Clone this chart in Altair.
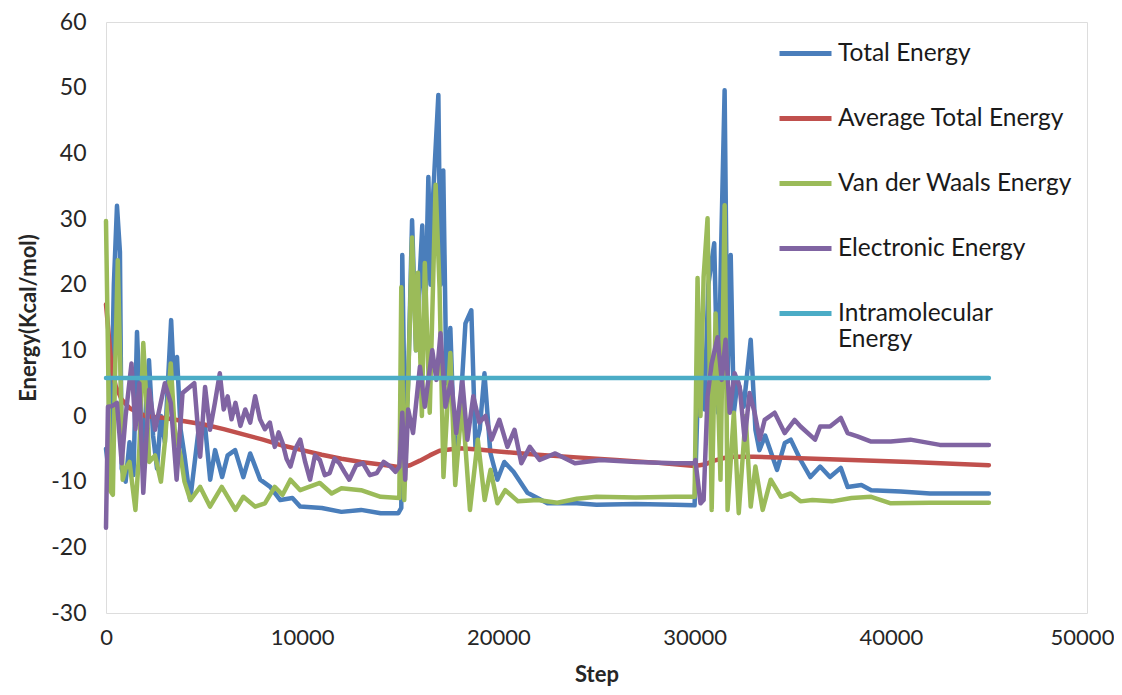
import altair as alt
import pandas as pd

# ---- data ----
total_steps = [0, 200, 400, 560, 710, 800, 1000, 1200, 1400, 1580, 1750, 1900, 2190, 2400, 2600, 2800, 3000,
               3320, 3450, 3620, 3800, 4000, 4290, 4700, 5050, 5310, 5560, 5920, 6200, 6580, 7000, 7350, 7860,
               8370, 8880, 9500, 9900, 11000, 12000, 13000, 14000, 14900, 15050, 15100, 15250, 15400, 15600,
               15800, 16120, 16250, 16430, 16550, 16680, 16940, 17050, 17190, 17350, 17550, 17800, 18000, 18320,
               18620, 18830, 19050, 19290, 19590, 19950, 20300, 20770, 21480, 22500, 24000, 25000, 27000, 29000,
               30000, 30150, 30350, 30500, 30700, 31000, 31200, 31350, 31530, 31680, 31840, 32000, 32200, 32500,
               32860, 33100, 33300, 33600, 34200, 34600, 34900, 35400, 35900, 36400, 36900, 37450, 37800, 38500,
               39000, 40500, 42000, 45000]
total_vals = [-5, -10, 20, 32, 25, -8, -10, -4, -9, 12.8, 0, -5, 8.5, -3, -8, 0, -4,
              14.6, 6, 9, -2, -6, -12.8, -2.6, -1.6, -9.7, -5.2, -9.3, -6, -5.2, -9.3, -5.7, -9.7,
              -10.8, -12.8, -12.5, -13.8, -14, -14.6, -14.3, -14.8, -14.8, -14, 24.5, -5, 5, 29.8,
              10, 29, 12, 36.4, 20, 33.9, 48.9, 20, 37.4, 5, 13.4, -8.7, -2, 14.1,
              16.1, -4.7, -2, 6.5, -5.6, -9.7, -7, -8.5, -11.7, -13.3, -13.3, -13.5, -13.4, -13.5,
              -13.6, 2, 9.6, 1, 20, 26.3, 0.5, 25.3, 49.6, 5.5, 24.5, 0.5, 5.5, 1.4,
              11.6, -2.1, -5.2, -3, -8.2, -4.1, -3.6, -6.7, -9.3, -7.7, -9.3, -7.9, -10.8, -10.5,
              -11.3, -11.5, -11.8, -11.8]

avg_steps = [0, 150, 300, 500, 800, 1200, 2000, 3000, 4000, 5000, 6000, 7000, 8000, 9000, 10000, 11000,
             12000, 13000, 14000, 15000, 15500, 16000, 16500, 17000, 18000, 19000, 20000, 22000, 24000, 26000,
             28000, 30000, 30500, 31000, 31500, 32000, 33000, 35000, 38000, 41000, 45000]
avg_vals = [17, 12, 7, 4.5, 2.5, 1.2, 0, -0.3, -0.8, -1.3, -2, -2.8, -3.6, -4.5, -5.2, -5.9,
            -6.5, -7, -7.4, -7.8, -7.5, -6.8, -6, -5.3, -4.9, -5.1, -5.4, -5.9, -6.3, -6.7,
            -7.1, -7.6, -7.4, -6.8, -6.4, -6.2, -6.2, -6.4, -6.7, -7.0, -7.5]

vdw_steps = [0, 100, 200, 350, 450, 600, 750, 850, 1000, 1200, 1500, 1700, 1900, 2100, 2200, 2500, 2800,
             3000, 3300, 3500, 3800, 4000, 4300, 4800, 5300, 5900, 6600, 7000, 7600, 8100, 8600, 9000, 9400,
             9900, 10900, 11500, 12000, 13000, 14000, 14950, 15050, 15200, 15400, 15600, 15800, 15900, 16100,
             16250, 16500, 16800, 17000, 17200, 17550, 17800, 18150, 18550, 18950, 19300, 19600, 19950, 20350,
             21000, 22000, 23000, 24000, 25000, 27000, 29000, 30000, 30150, 30300, 30460, 30660, 30870, 31070,
             31320, 31530, 31680, 32000, 32250, 32600, 32860, 33100, 33470, 33880, 34400, 34900, 35400, 36000,
             37000, 38000, 39000, 40000, 42000, 45000]
vdw_vals = [29.7, 10, -11.3, -12, 5, 23.7, 5, -9.7, -8, -7, -14.3, -5, 11.1, 0, -7, -6, -10,
            -4, 8, -2, -6, -10, -12.8, -10.8, -13.8, -10.8, -14.3, -12.3, -13.8, -13.3, -10.8, -12, -9.7,
            -11.3, -10.2, -11.8, -11, -11.3, -12.3, -12.5, 19.6, -12.8, 5, 27.2, 10, 21.8, 0,
            23.3, 0.5, 35.2, 19.6, -9.3, 9.6, -10.5, 2.4, -14.3, -3.6, -12.8, -8.2, -13.3, -11.3,
            -13, -12.8, -13.2, -12.6, -12.3, -12.4, -12.3, -12.3, 21, 0, 21.2, 30.1, -14.3, 15.6,
            -9.7, 32.1, -14.3, 0.5, -14.8, 0, -13.8, -7.7, -14.3, -9.7, -12.3, -11.8, -13, -12.8,
            -13, -12.5, -12.3, -13.3, -13.2, -13.2]

elec_steps = [0, 100, 300, 560, 800, 1000, 1300, 1500, 1700, 1900, 2200, 2500, 3000, 3300, 3600, 3900,
              4500, 4800, 5050, 5300, 5550, 5800, 6000, 6200, 6400, 6600, 6850, 7100, 7350, 7600, 7850,
              8100, 8350, 8600, 8800, 9000, 9200, 9400, 9650, 9900, 10150, 10400, 10650, 10900, 11150,
              11400, 11650, 11900, 12150, 12400, 12750, 13100, 13450, 13800, 14150, 14500, 14750, 14950,
              15100, 15250, 15400, 15650,
              16000, 16250, 16630, 16840, 17050, 17300, 17600, 17850, 18160, 18420, 18720, 19030, 19340,
              19650, 20050, 20460, 20820, 21170, 21600, 22100, 22900, 23900, 25200, 27000, 29000, 30000,
              30040, 30300, 30460, 30660, 30870, 31170, 31380, 31580, 31790, 32040, 32300, 32550, 32800,
              33060, 33320, 33570, 34080, 34590, 35100, 35400, 36140, 36400, 36900, 37450, 37800, 38300,
              39000, 40000, 41000, 42500, 45000]
elec_vals = [-17, 1.4, 1.5, 2, -7.2, 0, 8, -2, 5, -11.7, 4, -2.1, 5, 2, -9.7, 3.5,
             5, -6.2, 4.4, -2.1, 2, 6.5, 1, 3, -0.5, 2, -1.5, 1, -1, 3, -0.5,
             -2, -1, -4.7, -2.5, -4.1, -6.5, -7.7, -5, -3.6, -7, -9.7, -6, -6.7, -9,
             -8.7, -6.5, -7.2, -8.5, -9.7, -7.5, -7.2, -9, -8.7, -7, -7.7, -8.5, -7.7,
             0.5, -9.7, 1, -2.6,
             7.5, 1.4, 10, 5.5, 12.6, 1.4, 5.5, -2.6, 5.5, -3.6, 3, -1, 0,
             -3.6, -0.6, -4.7, -2.1, -7.2, -4.7, -6.7, -5.7, -7.2, -6.7, -7, -7.2, -7.2,
             -6.7, -13.3, -12.8, 3, 8, 12, 5.5, 11.6, 0.5, 6.5, 4.4, -3.6, 3.5,
             0.5, -3.6, -0.6, 0.5, -2.6, -0.6, -1.6, -3.6, -1.6, -1.6, -0.3, -2.6, -3.1,
             -3.9, -3.9, -3.6, -4.4, -4.4]

intra_steps = [0, 45000]
intra_vals = [5.8, 5.8]

series_names = ["Total Energy", "Average Total Energy", "Van der Waals Energy",
                "Electronic Energy", "Intramolecular Energy"]
series_colors = ["#4A7EBB", "#C0504D", "#9BBB59", "#8064A2", "#4BACC6"]
x_ticks = [0, 10000, 20000, 30000, 40000, 50000]
y_ticks = [-30, -20, -10, 0, 10, 20, 30, 40, 50, 60]

steps_list = [total_steps, avg_steps, vdw_steps, elec_steps, intra_steps]
vals_list = [total_vals, avg_vals, vdw_vals, elec_vals, intra_vals]

frames = []
for i, (name, st, vv) in enumerate(zip(series_names, steps_list, vals_list)):
    frames.append(pd.DataFrame({"Step": st, "Energy": vv, "Series": name, "order": i}))
df = pd.concat(frames, ignore_index=True)

FONT = "Lato"
color_scale = alt.Scale(domain=series_names, range=series_colors)

legend = alt.Legend(
    title=None, orient="none", legendX=671, legendY=3,
    symbolType="stroke", symbolSize=2704, symbolStrokeWidth=5,
    labelFont=FONT, labelFontSize=24.5, labelColor="#1a1a1a", labelLimit=400,
    labelOffset=4, rowPadding=25,
    labelExpr="datum.label == 'Intramolecular Energy' ? ['Intramolecular', 'Energy'] : datum.label",
)

x_enc = alt.X("Step:Q", scale=alt.Scale(domain=[0, 50000], nice=False),
              axis=alt.Axis(values=x_ticks, format="d", grid=False, ticks=False, domain=False,
                            labelFlush=False,
                            labelOffset={"condition": {"test": "datum.value == 50000", "value": -5},
                                         "value": 0},
                            labelFont=FONT, labelFontSize=22, labelColor="#262626", labelPadding=14,
                            title="Step", titleFont=FONT, titleFontSize=22, titleFontWeight="bold",
                            titleColor="#262626", titlePadding=16))
y_enc = alt.Y("Energy:Q", scale=alt.Scale(domain=[-30, 60], nice=False),
              axis=alt.Axis(values=y_ticks, grid=False, ticks=False, domain=False,
                            labelFlush=False,
                            labelExpr="datum.value < 0 ? '-' + abs(datum.value) : '' + datum.value",
                            labelFont=FONT, labelFontSize=23, labelColor="#262626", labelPadding=20,
                            title="Energy(Kcal/mol)", titleFont=FONT, titleFontSize=22,
                            titleFontWeight="bold", titleColor="#262626", titlePadding=10))

layers = []
for i, name in enumerate(series_names):
    layers.append(
        alt.Chart(df).transform_filter(alt.datum.Series == name).mark_line(
            strokeWidth=4.5, strokeJoin="round", strokeCap="round"
        ).encode(
            x=x_enc, y=y_enc,
            color=alt.Color("Series:N", scale=color_scale, legend=legend if i == 0 else None),
            order="Step:Q",
        )
    )

chart = alt.layer(*layers).properties(
    width=981, height=591,
    autosize=alt.AutoSizeParams(type="none"),
    padding={"left": 98, "top": 14, "right": 27, "bottom": 73},
).configure_view(stroke="#8c8c8c", strokeWidth=1.2).configure(background="white")

chart.save("out.html", embed_options={"renderer": "svg", "actions": False})
